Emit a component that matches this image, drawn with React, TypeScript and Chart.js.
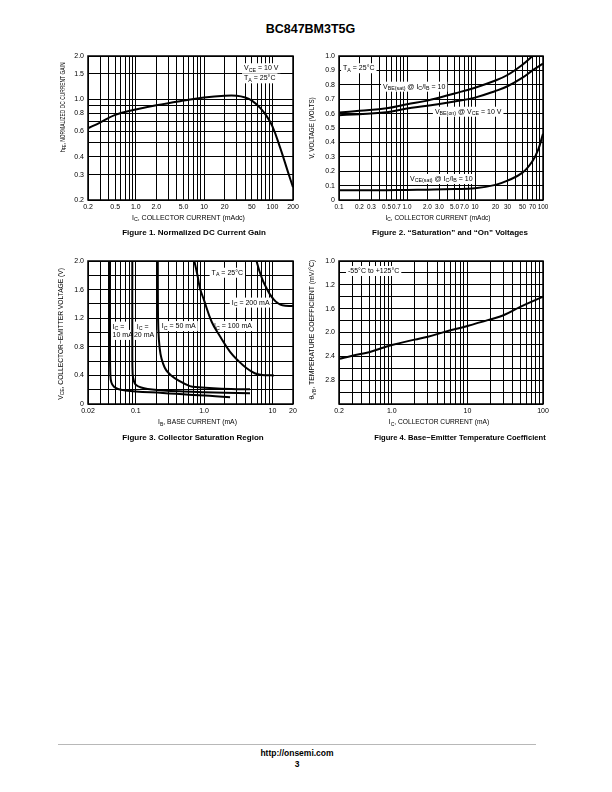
import React, { useEffect, useRef } from 'react';
import { Chart, registerables } from 'chart.js';

Chart.register(...registerables);

const FONT = "'Liberation Sans', Arial, Helvetica, sans-serif";

// ---------- Figure 1: Normalized DC Current Gain ----------
const fig1Ic = [0.2, 0.3, 0.5, 1, 2, 5, 10, 20, 30, 40, 50, 65, 80, 100, 130, 170, 200];
const fig1Hfe = [0.63, 0.69, 0.78, 0.85, 0.91, 0.98, 1.03, 1.06, 1.06, 1.03, 0.98, 0.88, 0.78, 0.65, 0.46, 0.31, 0.245];
const fig1XLabelValues = [0.2, 0.5, 1, 2, 5, 10, 20, 50, 100, 200];
const fig1XLabelTexts = ['0.2', '0.5', '1.0', '2.0', '5.0', '10', '20', '50', '100', '200'];
const fig1YGrid = [0.2, 0.3, 0.4, 0.5, 0.6, 0.7, 0.8, 0.9, 1.0, 1.5, 2.0];
const fig1YLabelValues = [0.2, 0.3, 0.4, 0.6, 0.8, 1.0, 1.5, 2.0];
const fig1YLabelTexts = ['0.2', '0.3', '0.4', '0.6', '0.8', '1.0', '1.5', '2.0'];

// ---------- Figure 2: Saturation and On Voltages ----------
const fig2IcBe = [0.1, 0.2, 0.5, 1, 2, 5, 10, 20, 30, 50, 70, 100];
const fig2VbeSat = [0.607, 0.62, 0.637, 0.665, 0.69, 0.74, 0.78, 0.83, 0.868, 0.94, 1.0, 1.07];
const fig2VbeOn = [0.589, 0.596, 0.61, 0.635, 0.654, 0.684, 0.711, 0.757, 0.79, 0.85, 0.9, 0.947];
const fig2IcCe = [0.1, 0.2, 0.5, 1, 2, 5, 10, 20, 30, 50, 70, 85, 100];
const fig2VceSat = [0.067, 0.067, 0.068, 0.07, 0.072, 0.076, 0.082, 0.105, 0.134, 0.19, 0.27, 0.35, 0.46];
const fig2XLabelValues = [0.1, 0.2, 0.3, 0.5, 0.7, 1, 2, 3, 5, 7, 10, 20, 30, 50, 70, 100];
const fig2XLabelTexts = ['0.1', '0.2', '0.3', '0.5', '0.7', '1.0', '2.0', '3.0', '5.0', '7.0', '10', '20', '30', '50', '70', '100'];
const fig2YGrid = [0, 0.1, 0.2, 0.3, 0.4, 0.5, 0.6, 0.7, 0.8, 0.9, 1.0];
const fig2YLabelTexts = ['0', '0.1', '0.2', '0.3', '0.4', '0.5', '0.6', '0.7', '0.8', '0.9', '1.0'];

// ---------- Figure 3: Collector Saturation Region ----------
const fig3Ib10 = [0.042, 0.042, 0.0425, 0.044, 0.048, 0.055, 0.07, 0.1, 0.25, 0.6, 1.2, 2.4];
const fig3Vce10 = [2.0, 0.8, 0.4, 0.3, 0.24, 0.21, 0.19, 0.175, 0.155, 0.13, 0.115, 0.095];
const fig3Ib20 = [0.089, 0.089, 0.09, 0.094, 0.1, 0.12, 0.15, 0.25, 0.5, 1.0, 2.0, 4.7];
const fig3Vce20 = [2.0, 0.8, 0.42, 0.32, 0.27, 0.23, 0.21, 0.19, 0.175, 0.165, 0.158, 0.15];
const fig3Ib50 = [0.21, 0.212, 0.218, 0.23, 0.25, 0.28, 0.33, 0.42, 0.62, 0.82, 1.36, 2.5, 4.7];
const fig3Vce50 = [2.0, 1.2, 0.9, 0.7, 0.57, 0.47, 0.4, 0.33, 0.25, 0.235, 0.22, 0.21, 0.205];
const fig3Ib100 = [0.72, 0.8, 0.87, 1.0, 1.29, 1.7, 2.4, 3.2, 4.2, 5.5, 7, 10.5];
const fig3Vce100 = [2.0, 1.8, 1.62, 1.45, 1.15, 0.95, 0.73, 0.6, 0.5, 0.43, 0.405, 0.4];
const fig3Ib200 = [5.85, 6.5, 7.3, 8.2, 9.1, 10.5, 12, 14, 20];
const fig3Vce200 = [2.0, 1.85, 1.72, 1.62, 1.54, 1.46, 1.41, 1.38, 1.37];
const fig3XLabelValues = [0.02, 0.1, 1, 10, 20];
const fig3XLabelTexts = ['0.02', '0.1', '1.0', '10', '20'];
const fig3YGrid = [0, 0.2, 0.4, 0.6, 0.8, 1.0, 1.2, 1.4, 1.6, 1.8, 2.0];
const fig3YLabelValues = [0, 0.4, 0.8, 1.2, 1.6, 2.0];
const fig3YLabelTexts = ['0', '0.4', '0.8', '1.2', '1.6', '2.0'];

// ---------- Figure 4: Base-Emitter Temperature Coefficient ----------
const fig4Ic = [0.2, 0.3, 0.5, 1, 2, 3, 5, 10, 20, 30, 50, 100];
const fig4Theta = [2.443, 2.39, 2.33, 2.21, 2.12, 2.07, 1.99, 1.89, 1.78, 1.71, 1.57, 1.4];
const fig4XLabelValues = [0.2, 1, 10, 100];
const fig4XLabelTexts = ['0.2', '1.0', '10', '100'];
const fig4YGrid = [0.8, 1.0, 1.2, 1.4, 1.6, 1.8, 2.0, 2.2, 2.4, 2.6, 2.8, 3.0, 3.2];
const fig4YLabelValues = [0.8, 1.2, 1.6, 2.0, 2.4, 2.8];
const fig4YLabelTexts = ['1.0', '1.2', '1.6', '2.0', '2.4', '2.8'];

// ---------- helpers ----------
function logGrid(min: number, max: number) {
  const out: number[] = [];
  for (let e = Math.floor(Math.log10(min)); e <= Math.ceil(Math.log10(max)); e++) {
    for (let m = 1; m < 10; m++) {
      const v = parseFloat((m * Math.pow(10, e)).toPrecision(6));
      if (v >= min * (1 - 1e-9) && v <= max * (1 + 1e-9)) out.push(v);
    }
  }
  return out;
}

type Seg = { t: string; sub: boolean };
function parseRich(s: string): Seg[] {
  const out: Seg[] = [];
  const re = /_\{([^}]*)\}/g;
  let last = 0;
  let m: RegExpExecArray | null;
  while ((m = re.exec(s))) {
    if (m.index > last) out.push({ t: s.slice(last, m.index), sub: false });
    out.push({ t: m[1], sub: true });
    last = m.index + m[0].length;
  }
  if (last < s.length) out.push({ t: s.slice(last), sub: false });
  return out;
}
const MAIN = 7;
const SUB = 5.3;
const fontStr = (sub: boolean) => `${sub ? SUB : MAIN}px ${FONT}`;
function richWidth(ctx: CanvasRenderingContext2D, segs: Seg[]) {
  let w = 0;
  for (const s of segs) {
    ctx.font = fontStr(s.sub);
    w += ctx.measureText(s.t).width;
  }
  return w;
}
function drawRich(ctx: CanvasRenderingContext2D, segs: Seg[], x: number, y: number) {
  ctx.textBaseline = 'middle';
  ctx.textAlign = 'left';
  let cx = x;
  for (const s of segs) {
    ctx.font = fontStr(s.sub);
    ctx.fillText(s.t, cx, s.sub ? y + 2 : y);
    cx += ctx.measureText(s.t).width;
  }
}

type Ann = { text: string; fx: number; fy: number };
type Axis = {
  type: 'logarithmic' | 'linear'; min: number; max: number; grid: number[];
  labels: number[]; texts: string[]; reverse?: boolean; fontSize?: number;
};
type Spec = {
  L: number; T: number; W: number; H: number;
  series: { xs: number[]; ys: number[] }[];
  x: Axis;
  y: Axis;
  ann: Ann[];
  yTitle: { text: string; off: number; fy: number; squeeze: number };
  xTitle: { text: string; off: number; fx: number; squeeze: number };
};

const PADL = 50, PADT = 10, PADR = 14, PADB = 34;

function makeDecor(spec: Spec) {
  return {
    id: 'decor',
    beforeDatasetsDraw(chart: any) {
      const ctx: CanvasRenderingContext2D = chart.ctx;
      const a = chart.chartArea;
      ctx.save();
      for (const an of spec.ann) {
        const segs = parseRich(an.text);
        const w = richWidth(ctx, segs);
        const x = a.left + an.fx * (a.right - a.left);
        const y = a.top + an.fy * (a.bottom - a.top);
        ctx.fillStyle = '#fff';
        ctx.fillRect(x - 2, y - 5, w + 4, 10);
        ctx.fillStyle = '#000';
        drawRich(ctx, segs, x, y);
      }
      ctx.restore();
    },
    afterDraw(chart: any) {
      const ctx: CanvasRenderingContext2D = chart.ctx;
      const a = chart.chartArea;
      ctx.save();
      ctx.strokeStyle = '#000';
      ctx.lineWidth = 1.5;
      ctx.strokeRect(a.left, a.top, a.right - a.left, a.bottom - a.top);
      ctx.fillStyle = '#000';
      {
        const segs = parseRich(spec.yTitle.text);
        const w = richWidth(ctx, segs);
        ctx.save();
        ctx.translate(a.left - spec.yTitle.off, a.top + spec.yTitle.fy * (a.bottom - a.top));
        ctx.rotate(-Math.PI / 2);
        ctx.scale(spec.yTitle.squeeze, 1);
        drawRich(ctx, segs, -w / 2, 0);
        ctx.restore();
      }
      {
        const segs = parseRich(spec.xTitle.text);
        const w = richWidth(ctx, segs);
        ctx.save();
        ctx.translate(a.left + spec.xTitle.fx * (a.right - a.left), a.bottom + spec.xTitle.off);
        ctx.scale(spec.xTitle.squeeze, 1);
        drawRich(ctx, segs, -w / 2, 0);
        ctx.restore();
      }
      ctx.restore();
    },
  };
}

function labelCb(labels: number[], texts: string[]) {
  return (v: any) => {
    const n = Number(v);
    const i = labels.findIndex((l) => Math.abs(l - n) <= 1e-6 * Math.max(1, Math.abs(l)));
    return i >= 0 ? texts[i] : '';
  };
}

function axisOpts(ax: Axis, isX: boolean) {
  return {
    type: ax.type,
    min: ax.min,
    max: ax.max,
    reverse: ax.reverse || false,
    position: isX ? 'bottom' : 'left',
    afterBuildTicks: (s: any) => {
      s.ticks = ax.grid.map((v) => ({ value: v }));
    },
    afterFit: (s: any) => {
      if (isX) s.height = PADB;
      else s.width = PADL;
    },
    grid: { color: '#000', lineWidth: 1, drawTicks: false },
    border: { display: false },
    ticks: {
      autoSkip: false,
      maxRotation: 0,
      minRotation: 0,
      padding: isX ? 3 : 4,
      color: '#000',
      font: { family: FONT, size: ax.fontSize || 7 },
      callback: labelCb(ax.labels, ax.texts),
    },
  };
}

function PlotChart({ spec }: { spec: Spec }) {
  const ref = useRef<HTMLCanvasElement>(null);
  const cw = spec.W + PADL + PADR;
  const ch = spec.H + PADT + PADB;
  useEffect(() => {
    const chart = new Chart(ref.current as HTMLCanvasElement, {
      type: 'line',
      data: {
        datasets: spec.series.map((s) => ({
          data: s.xs.map((x, i) => ({ x, y: s.ys[i] })),
          borderColor: '#000',
          borderWidth: 2,
          pointRadius: 0,
          tension: 0.4,
          fill: false,
        })),
      },
      options: {
        animation: false,
        responsive: false,
        maintainAspectRatio: false,
        devicePixelRatio: 1,
        layout: { padding: { left: 0, top: PADT, right: PADR, bottom: 0 } },
        plugins: { legend: { display: false }, tooltip: { enabled: false } },
        scales: {
          x: axisOpts(spec.x, true) as any,
          y: axisOpts(spec.y, false) as any,
        },
      },
      plugins: [makeDecor(spec) as any],
    });
    return () => chart.destroy();
  }, []);
  return (
    <canvas
      ref={ref}
      width={cw}
      height={ch}
      style={{ position: 'absolute', left: spec.L - PADL, top: spec.T - PADT, width: cw, height: ch }}
    />
  );
}

const spec1: Spec = {
  L: 88, T: 56, W: 205, H: 144,
  series: [{ xs: fig1Ic, ys: fig1Hfe }],
  x: { type: 'logarithmic', min: 0.2, max: 200, grid: logGrid(0.2, 200), labels: fig1XLabelValues, texts: fig1XLabelTexts },
  y: { type: 'logarithmic', min: 0.2, max: 2.0, grid: fig1YGrid, labels: fig1YLabelValues, texts: fig1YLabelTexts },
  ann: [
    { text: 'V_{CE} = 10 V', fx: 0.761, fy: 0.085 },
    { text: 'T_{A} = 25°C', fx: 0.761, fy: 0.155 },
  ],
  yTitle: { text: 'h_{FE}, NORMALIZED DC CURRENT GAIN', off: 25, fy: 0.356, squeeze: 0.7 },
  xTitle: { text: 'I_{C}, COLLECTOR CURRENT (mAdc)', off: 18, fx: 0.49, squeeze: 1 },
};

const spec2: Spec = {
  L: 339, T: 56, W: 204, H: 144,
  series: [
    { xs: fig2IcBe, ys: fig2VbeSat },
    { xs: fig2IcBe, ys: fig2VbeOn },
    { xs: fig2IcCe, ys: fig2VceSat },
  ],
  x: { type: 'logarithmic', min: 0.1, max: 100, grid: logGrid(0.1, 100), labels: fig2XLabelValues, texts: fig2XLabelTexts, fontSize: 6.4 },
  y: { type: 'linear', min: 0, max: 1.0, grid: fig2YGrid, labels: fig2YGrid, texts: fig2YLabelTexts },
  ann: [
    { text: 'T_{A} = 25°C', fx: 0.02, fy: 0.085 },
    { text: 'V_{BE(sat)} @ I_{C}/I_{B} = 10', fx: 0.216, fy: 0.213 },
    { text: 'V_{BE(on)} @ V_{CE} = 10 V', fx: 0.47, fy: 0.387 },
    { text: 'V_{CE(sat)} @ I_{C}/I_{B} = 10', fx: 0.348, fy: 0.854 },
  ],
  yTitle: { text: 'V, VOLTAGE (VOLTS)', off: 27, fy: 0.5, squeeze: 0.89 },
  xTitle: { text: 'I_{C}, COLLECTOR CURRENT (mAdc)', off: 18, fx: 0.485, squeeze: 0.93 },
};

const spec3: Spec = {
  L: 88, T: 261, W: 205, H: 143,
  series: [
    { xs: fig3Ib10, ys: fig3Vce10 },
    { xs: fig3Ib20, ys: fig3Vce20 },
    { xs: fig3Ib50, ys: fig3Vce50 },
    { xs: fig3Ib100, ys: fig3Vce100 },
    { xs: fig3Ib200, ys: fig3Vce200 },
  ],
  x: { type: 'logarithmic', min: 0.02, max: 20, grid: logGrid(0.02, 20), labels: fig3XLabelValues, texts: fig3XLabelTexts },
  y: { type: 'linear', min: 0, max: 2.0, grid: fig3YGrid, labels: fig3YLabelValues, texts: fig3YLabelTexts },
  ann: [
    { text: 'T_{A} = 25°C', fx: 0.603, fy: 0.082 },
    { text: 'I_{C} = 200 mA', fx: 0.701, fy: 0.291 },
    { text: 'I_{C} = 100 mA', fx: 0.615, fy: 0.455 },
    { text: 'I_{C} = 50 mA', fx: 0.36, fy: 0.455 },
    { text: 'I_{C} =', fx: 0.12, fy: 0.459 },
    { text: '10 mA', fx: 0.12, fy: 0.517 },
    { text: 'I_{C} =', fx: 0.238, fy: 0.459 },
    { text: '20 mA', fx: 0.224, fy: 0.517 },
  ],
  yTitle: { text: 'V_{CE}, COLLECTOR\u2212EMITTER VOLTAGE (V)', off: 27, fy: 0.51, squeeze: 0.95 },
  xTitle: { text: 'I_{B}, BASE CURRENT (mA)', off: 18.5, fx: 0.534, squeeze: 0.97 },
};

const spec4: Spec = {
  L: 339, T: 261, W: 204, H: 143,
  series: [{ xs: fig4Ic, ys: fig4Theta }],
  x: { type: 'logarithmic', min: 0.2, max: 100, grid: logGrid(0.2, 100), labels: fig4XLabelValues, texts: fig4XLabelTexts },
  y: { type: 'linear', min: 0.8, max: 3.2, grid: fig4YGrid, labels: fig4YLabelValues, texts: fig4YLabelTexts, reverse: true },
  ann: [{ text: '-55°C to +125°C', fx: 0.044, fy: 0.07 }],
  yTitle: { text: '\u03B8_{VB}, TEMPERATURE COEFFICIENT (mV/°C)', off: 26.5, fy: 0.48, squeeze: 0.98 },
  xTitle: { text: 'I_{C}, COLLECTOR CURRENT (mA)', off: 18.5, fx: 0.49, squeeze: 0.95 },
};

function Txt({ x, y, size, bold, children }: { x: number; y: number; size: number; bold?: boolean; children: React.ReactNode }) {
  return (
    <div
      style={{
        position: 'absolute',
        left: x,
        top: y,
        transform: 'translate(-50%, -50%)',
        whiteSpace: 'nowrap',
        fontFamily: FONT,
        fontSize: size,
        fontWeight: bold ? 'bold' : 'normal',
        lineHeight: 1,
        color: '#000',
      }}
    >
      {children}
    </div>
  );
}

export default function App() {
  return (
    <div style={{ position: 'absolute', left: 0, top: 0, width: 612, height: 792, background: '#fff', overflow: 'hidden' }}>
      <Txt x={310.5} y={29} size={12.5} bold>BC847BM3T5G</Txt>
      <PlotChart spec={spec1} />
      <PlotChart spec={spec2} />
      <PlotChart spec={spec3} />
      <PlotChart spec={spec4} />
      <Txt x={194} y={232.5} size={8} bold>Figure 1. Normalized DC Current Gain</Txt>
      <Txt x={450} y={232.5} size={8} bold>Figure 2. {'\u201C'}Saturation{'\u201D'} and {'\u201C'}On{'\u201D'} Voltages</Txt>
      <Txt x={193} y={437.5} size={8} bold>Figure 3. Collector Saturation Region</Txt>
      <Txt x={460} y={437.5} size={7.6} bold>Figure 4. Base{'\u2212'}Emitter Temperature Coefficient</Txt>
      <div style={{ position: 'absolute', left: 58, top: 743.5, width: 478, height: 1.5, background: '#b8b8b8' }} />
      <Txt x={297} y={753} size={8.5} bold>http://onsemi.com</Txt>
      <Txt x={297} y={763.5} size={8.5} bold>3</Txt>
    </div>
  );
}
